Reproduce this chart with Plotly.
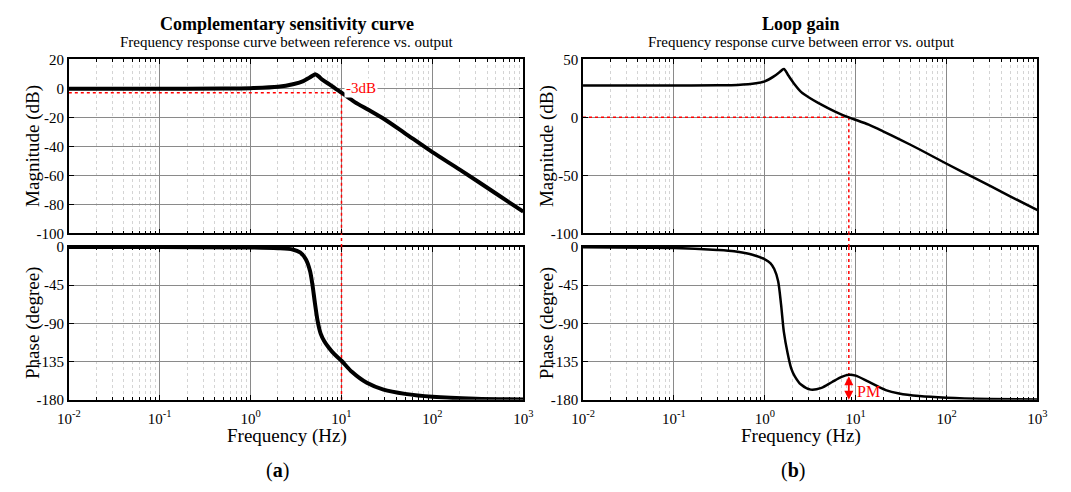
import numpy as np
import plotly.graph_objects as go

# ---------------- data ----------------
# (a) complementary sensitivity T(s)
t_mag_f = [0.01, 0.1, 0.5, 1.0, 2.0, 3.0, 3.8, 4.4, 4.9, 5.2, 5.6, 6.2, 7.3, 8.5, 10, 14, 20, 30, 50, 100, 200, 500, 1000]
t_mag_db = [-0.3, -0.3, -0.2, 0.1, 1.0, 3.0, 5.0, 7.2, 9.0, 9.6, 8.2, 5.8, 2.9, 0.0, -3.0, -9.5, -15.0, -21.5, -31.0, -44.0, -56.0, -72.5, -85.0]

t_ph_f = [0.01, 0.1, 1.0, 2.0, 2.9, 3.5, 4.05, 4.5, 4.8, 5.1, 5.46, 5.9, 6.47, 7.3, 8.3, 10, 13, 19, 29, 50, 100, 300, 1000]
t_ph_deg = [0.0, -0.1, -0.6, -1.5, -3.0, -6.5, -14.5, -28, -45, -66, -87, -102, -111, -119, -126, -134, -147, -160, -168, -173, -176.5, -178.8, -179.6]

# (b) loop gain L(s)
l_mag_f = [0.01, 0.1, 0.3, 0.5, 0.8, 1.0, 1.27, 1.45, 1.62, 1.8, 2.1, 2.52, 3.0, 3.86, 5.93, 8.4, 13.9, 20, 30, 50, 100, 200, 500, 1000]
l_mag_db = [27.5, 27.5, 27.6, 27.9, 29.3, 31.0, 35.5, 38.8, 41.7, 36.5, 29.0, 21.7, 17.5, 12.5, 5.0, 0.0, -6.3, -12.0, -18.7, -27.5, -40.0, -52.0, -68.0, -80.0]

l_ph_f = [0.01, 0.1, 0.3, 0.46, 0.7, 1.0, 1.15, 1.27, 1.4, 1.51, 1.62, 1.78, 1.95, 2.13, 2.5, 3.2, 4.2, 5.5, 7.0, 8.4, 10, 14, 21.4, 30, 50, 100, 300, 1000]
l_ph_deg = [-0.3, -1.2, -3.5, -5.0, -8.5, -14.5, -19.0, -26.0, -40.0, -68.0, -100.0, -125.0, -143.0, -152.0, -162.0, -168.0, -166.0, -159.0, -153.0, -150.5, -151.5, -159.0, -168.5, -172.5, -175.5, -177.5, -179.0, -179.7]

decade_ticks = [0.01, 0.1, 1, 10, 100, 1000]
decade_text = ["10<sup>-2</sup>", "10<sup>-1</sup>", "10<sup>0</sup>", "10<sup>1</sup>", "10<sup>2</sup>", "10<sup>3</sup>"]
mag_ticks_a = [20, 0, -20, -40, -60, -80, -100]
mag_ticks_b = [50, 0, -50, -100]
phase_ticks = [0, -45, -90, -135, -180]

f_3db = 10.0      # -3 dB bandwidth (a)
db_3db = -3.0
f_c = 8.4         # gain crossover (b)
pm_phase = -150.5 # phase at crossover

# ---------------- layout constants ----------------
W, H = 1071, 492
FONT = "Liberation Serif"
XL = [58 / W, 522 / W]
XR = [583 / W, 1047 / W]
Y_MAG = [1 - 233 / H, 1 - 53 / H]
Y_PH = [1 - 405 / H, 1 - 247 / H]

fig = go.Figure()

def add(x, y, xa, ya, width, color="black", dash=None, shape="spline"):
    fig.add_trace(go.Scatter(x=x, y=y, xaxis=xa, yaxis=ya, mode="lines",
                             line=dict(color=color, width=width, dash=dash, shape=shape, smoothing=0.8),
                             hoverinfo="skip", showlegend=False))

# red guides (drawn first, below the curves)
add([0.01, f_3db], [db_3db, db_3db], "x", "y", 1.5, "red", "dot", "linear")
add([f_3db, f_3db], [db_3db, -100], "x", "y", 1.5, "red", "dot", "linear")
add([f_3db, f_3db], [0, -180], "x3", "y3", 1.5, "red", "dot", "linear")
add([0.01, f_c], [0, 0], "x2", "y2", 1.5, "red", "dot", "linear")
add([f_c, f_c], [0, -100], "x2", "y2", 1.5, "red", "dot", "linear")
add([f_c, f_c], [0, pm_phase], "x4", "y4", 1.5, "red", "dot", "linear")

# curves
add(t_mag_f, t_mag_db, "x", "y", 4)
add(t_ph_f, t_ph_deg, "x3", "y3", 4)
add(l_mag_f, l_mag_db, "x2", "y2", 2.5)
add(l_ph_f, l_ph_deg, "x4", "y4", 2.5)

grid_c = "#8a8a8a"
minor_vals = [d * k for d in [0.01, 0.1, 1, 10, 100] for k in range(2, 10)]

def xaxis(domain, anchor, labels):
    return dict(domain=domain, anchor=anchor, type="log", range=[-2, 3],
                tickmode="array", tickvals=decade_ticks, ticktext=decade_text,
                showticklabels=labels, ticks="inside", ticklen=5, tickcolor="black",
                ticklabelstandoff=4,
                showline=True, linecolor="black", linewidth=1.5, mirror="ticks",
                showgrid=True, gridcolor=grid_c, gridwidth=1, zeroline=False,
                minor=dict(tickmode="array", tickvals=minor_vals, ticks="inside", ticklen=3,
                           tickcolor="black", showgrid=True, gridcolor="#d4d4d4", griddash="dot", gridwidth=1),
                tickfont=dict(family=FONT, size=15, color="black"))

def yaxis(domain, anchor, rng, ticks):
    return dict(domain=domain, anchor=anchor, range=rng, tickmode="array", tickvals=ticks,
                ticktext=[str(t) for t in ticks],
                ticks="inside", ticklen=5, tickcolor="black",
                showline=True, linecolor="black", linewidth=1.5, mirror="ticks",
                showgrid=True, gridcolor=grid_c, gridwidth=1, zeroline=False,
                tickfont=dict(family=FONT, size=15, color="black"))

fig.update_layout(
    width=W, height=H, margin=dict(l=0, r=0, t=0, b=0),
    paper_bgcolor="white", plot_bgcolor="white", showlegend=False,
    font=dict(family=FONT, color="black"),
    xaxis=xaxis(XL, "y", False), yaxis=yaxis(Y_MAG, "x", [-100, 20], mag_ticks_a),
    xaxis2=xaxis(XR, "y2", False), yaxis2=yaxis(Y_MAG, "x2", [-100, 50], mag_ticks_b),
    xaxis3=xaxis(XL, "y3", True), yaxis3=yaxis(Y_PH, "x3", [-180, 0], phase_ticks),
    xaxis4=xaxis(XR, "y4", True), yaxis4=yaxis(Y_PH, "x4", [-180, 0], phase_ticks),
)

# red dotted line through the gap between magnitude and phase panels
for xr, fx in [("x3", f_3db), ("x4", f_c)]:
    fig.add_shape(type="line", xref=xr, yref="paper", x0=fx, x1=fx,
                  y0=Y_PH[1], y1=Y_MAG[0], line=dict(color="red", width=1.5, dash="dot"))

def txt(x, y, s, size, **kw):
    color = kw.pop("color", "black")
    fig.add_annotation(x=x / W, y=1 - y / H, xref="paper", yref="paper", text=s, showarrow=False,
                       xanchor="center", yanchor="middle",
                       font=dict(family=FONT, size=size, color=color), **kw)

# titles
txt(281, 17, "<b>Complementary sensitivity curve</b>", 18)
txt(281, 35, "Frequency response curve between reference vs. output", 15)
txt(806, 17, "<b>Loop gain</b>", 18)
txt(806, 35, "Frequency response curve between error vs. output", 15)
# axis titles
txt(22, 143, "Magnitude (dB)", 19, textangle=-90)
txt(22, 326, "Phase (degree)", 19, textangle=-90)
txt(547, 143, "Magnitude (dB)", 19, textangle=-90)
txt(547, 326, "Phase (degree)", 19, textangle=-90)
txt(281, 442, "Frequency (Hz)", 19)
txt(806, 442, "Frequency (Hz)", 19)
txt(271, 478, "(<b>a</b>)", 20)
txt(797, 478, "(<b>b</b>)", 20)

# -3dB label
fig.add_annotation(x=np.log10(f_3db), y=0.5, xref="x", yref="y", text="-3dB", showarrow=False,
                   xanchor="left", yanchor="middle", xshift=3, bgcolor="white",
                   font=dict(family=FONT, size=15, color="red"))
# PM arrow and label
fig.add_annotation(x=np.log10(f_c), y=-180, ax=np.log10(f_c), ay=pm_phase, xref="x4", yref="y4",
                   axref="x4", ayref="y4", text="", showarrow=True, arrowhead=2, startarrowhead=2,
                   arrowside="end+start", arrowsize=1, arrowwidth=1.8, arrowcolor="red")
fig.add_annotation(x=np.log10(f_c), y=-170, xref="x4", yref="y4", text="PM", showarrow=False,
                   xanchor="left", yanchor="middle", xshift=6, font=dict(family=FONT, size=16, color="red"))

fig.write_html("out.html")
